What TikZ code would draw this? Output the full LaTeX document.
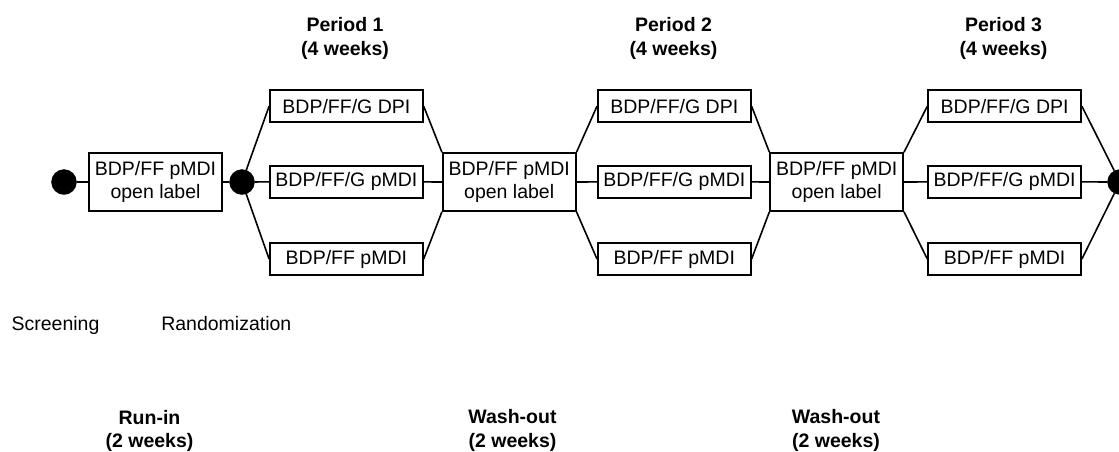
\documentclass[tikz,border=0pt]{standalone}
\usepackage{fontspec}
\setmainfont{Liberation Sans}
\begin{document}
\begin{tikzpicture}[x=1pt,y=-1pt,
  every node/.style={font=\fontsize{19.5}{23.5}\selectfont},
  armbox/.style={draw,line width=1.6pt,minimum width=153pt,minimum height=32pt,inner sep=0pt},
  olbox/.style={draw,line width=1.6pt,minimum width=133pt,minimum height=58pt,inner sep=0pt,align=center},
  dot/.style={circle,fill=black,draw=black,minimum size=25pt,inner sep=0pt},
  conn/.style={line width=1.6pt},
  lbl/.style={inner sep=0pt,align=center},
  blbl/.style={inner sep=0pt,align=center,font=\fontsize{19.5}{23.5}\selectfont\bfseries}]
\useasboundingbox (0,0) rectangle (1119,451);
% circles
\node[dot] (c1) at (64,182) {};
\node[dot] (c2) at (242,182) {};
\node[dot] (c3) at (1120,182) {};
% open label boxes
\node[olbox] (ol) at (155.5,182) {BDP/FF pMDI\\open label};
\node[olbox] (w1) at (509.2,182) {BDP/FF pMDI\\open label};
\node[olbox] (w2) at (836.7,182) {BDP/FF pMDI\\open label};
% period 1
\node[armbox] (p1a) at (346.4,106.2) {BDP/FF/G DPI};
\node[armbox] (p1b) at (346.4,181.9) {BDP/FF/G pMDI};
\node[armbox] (p1c) at (346.4,259) {BDP/FF pMDI};
% period 2
\node[armbox] (p2a) at (674.3,106.2) {BDP/FF/G DPI};
\node[armbox] (p2b) at (674.3,181.9) {BDP/FF/G pMDI};
\node[armbox] (p2c) at (674.3,259) {BDP/FF pMDI};
% period 3
\node[armbox] (p3a) at (1004.6,106.2) {BDP/FF/G DPI};
\node[armbox] (p3b) at (1004.6,181.9) {BDP/FF/G pMDI};
\node[armbox] (p3c) at (1004.6,259) {BDP/FF pMDI};
% connectors
\draw[conn] (c1) -- (ol.west);
\draw[conn] (ol.east) -- (c2);
\draw[conn] (c2) -- (p1a.west);
\draw[conn] (c2) -- (p1b.west);
\draw[conn] (c2) -- (p1c.west);
\draw[conn] (p1a.east) -- (w1.north west);
\draw[conn] (p1b.east) -- (w1.west);
\draw[conn] (p1c.east) -- (w1.south west);
\draw[conn] (w1.north east) -- (p2a.west);
\draw[conn] (w1.east) -- (p2b.west);
\draw[conn] (w1.south east) -- (p2c.west);
\draw[conn] (p2a.east) -- (w2.north west);
\draw[conn] (p2b.east) -- (w2.west);
\draw[conn] (p2c.east) -- (w2.south west);
\draw[conn] (w2.north east) -- (p3a.west);
\draw[conn] (w2.east) -- (p3b.west);
\draw[conn] (w2.south east) -- (p3c.west);
\draw[conn] (p3a.east) -- (c3);
\draw[conn] (p3b.east) -- (c3);
\draw[conn] (p3c.east) -- (c3);
% labels
\node[blbl,anchor=north] (t1) at (345,17.3) {Period 1\\(4 weeks)};
\node[blbl,anchor=north] (t2) at (673.5,17.3) {Period 2\\(4 weeks)};
\node[blbl,anchor=north] (t3) at (1003.5,17.3) {Period 3\\(4 weeks)};
\node[lbl,anchor=base] (scr) at (55.5,330) {Screening};
\node[lbl,anchor=base] (rnd) at (226.3,330) {Randomization};
\node[blbl,anchor=north] (runin) at (149.5,410) {Run-in\\(2 weeks)};
\node[blbl,anchor=north] (wo1) at (512.5,409.5) {Wash-out\\(2 weeks)};
\node[blbl,anchor=north] (wo2) at (836,409.5) {Wash-out\\(2 weeks)};
\end{tikzpicture}
\end{document}
